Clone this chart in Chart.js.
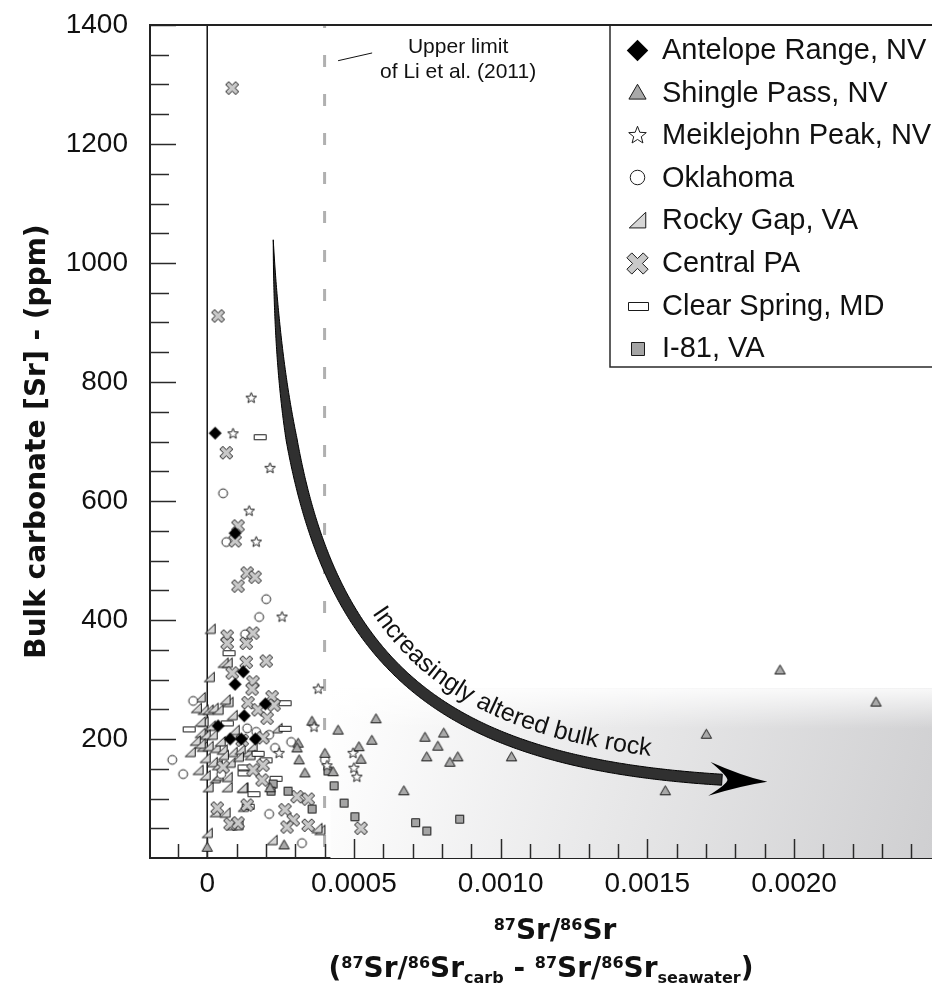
<!DOCTYPE html>
<html>
<head>
<meta charset="utf-8">
<title>Bulk carbonate Sr vs 87Sr/86Sr offset</title>
<script src="https://cdn.jsdelivr.net/npm/chart.js@4.4.0/dist/chart.umd.min.js"></script>
<style>
  html, body { margin: 0; padding: 0; background: #fff; overflow: hidden; }
  #wrap { width: 932px; height: 984px; }
</style>
</head>
<body>
<div id="wrap"><canvas id="srChart" width="932" height="984"></canvas></div>
<script>
const FONT = '"Liberation Sans", Arial, Helvetica, sans-serif';
const BOLD = '"DejaVu Sans", "Liberation Sans", sans-serif';

// ---- data: x = 87Sr/86Sr(carb) - 87Sr/86Sr(seawater), y = [Sr] ppm ----
const antelopeX = [0.000027, 0.000095, 0.000123, 0.000095, 0.000198, 0.000126, 0.000037, 0.000078, 0.000116, 0.000164];
const antelopeY = [714, 546, 313, 292, 259, 239, 222, 200, 200, 200];

const shingleX = [0.000357, 0.00031, 0.000306, 0.000313, 0.000333, 0.000401, 0.000429, 0.000446, 0.000262, 0.000214,
                  0.000575, 0.000561, 0.000517, 0.000524, 0.00067, 0.000742, 0.000806, 0.000786, 0.000748, 0.000827,
                  0.000854, 0.001037, 0.001561, 0.001701, 0.001952, 0.002279, 0.0];
const shingleY = [230, 193, 185, 165, 143, 176, 145, 215, 22, 118,
                  234, 198, 187, 166, 113, 203, 210, 188, 170, 161,
                  170, 170, 113, 208, 316, 262, 18];

const meiklejohnX = [0.00015, 0.000088, 0.000214, 0.000143, 0.000167, 0.000255, 0.000378, 0.000364, 0.000245, 0.000408, 0.000497, 0.0005, 0.00051];
const meiklejohnY = [773, 713, 655, 583, 531, 405, 284, 220, 176, 155, 176, 151, 136];

const oklahomaX = [0.000054, 0.000065, 0.000201, 0.000177, 0.000129, -0.000048, -0.000119, -0.000082, 0.000136, 0.000167,
                   0.000211, 0.000286, 0.000231, 0.000401, 0.000211, 0.000323, 0.000122, 0.000048];
const oklahomaY = [613, 531, 435, 405, 376, 264, 165, 141, 218, 212,
                   207, 195, 185, 165, 74, 25, 148, 141];

const rockyGapX = [0.00001, 0.000007, 0.000054, 0.000068, -0.000014, 0.000003, 0.00002, 0.000037, 0.000071, -0.000014,
                   0.00001, -0.000024, -0.000007, 0.000017, -0.000017, 0.000003, 0.000027, 0.000051, 0.000085, -0.000007,
                   0.000017, 0.000034, 0.000078, 0.000112, -0.000007, 0.000027, 0.000068, 0.000003, 0.000068, 0.000136,
                   0.000153, 0.000122, 0.000027, 0.000061, 0.0, 0.000085, 0.000105, 0.000061, 0.000238, 0.000119,
                   0.000221, 0.000384, 0.000374, 0.000146, -0.000024, -0.000041, -0.000058, -0.000031,
                   -0.000037, -0.000024, -0.000024, 0.000055, 0.000106, 0.000037, 0.000123, 0.000085, 0.000044, 0.000092];
const rockyGapY = [385, 304, 328, 328, 249, 249, 252, 249, 262, 229,
                   222, 210, 207, 207, 187, 188, 185, 182, 178, 168,
                   161, 156, 160, 182, 139, 134, 136, 119, 119, 178,
                   187, 118, 77, 76, 42, 55, 55, 266, 218, 118,
                   30, 47, 50, 173, 270, 197, 178, 148,
                   252, 229, 192, 173, 170, 138, 86, 240, 196, 215];

const centralPAX = [0.000085, 0.000037, 0.000065, 0.000105, 0.000095, 0.000136, 0.000163, 0.000105, 0.000068, 0.000068,
                    0.000133, 0.000156, 0.000133, 0.000201, 0.000085, 0.000156, 0.000153, 0.000139, 0.000221, 0.000228,
                    0.000173, 0.000204, 0.00019, 0.000054, 0.00019, 0.000156, 0.000187, 0.000034, 0.000136, 0.000078,
                    0.000105, 0.000306, 0.000344, 0.000265, 0.000293, 0.000272, 0.000344, 0.000524, 0.000119];
const centralPAY = [1294, 911, 681, 558, 533, 479, 472, 457, 373, 361,
                    361, 378, 329, 331, 311, 296, 284, 261, 271, 257,
                    249, 235, 202, 153, 156, 148, 131, 84, 89, 57,
                    59, 103, 99, 81, 64, 52, 55, 50, 198];

const clearSpringX = [0.000177, 0.000071, -0.000065, 0.000065, 0.000262, 0.000262, 0.00017, 0.000122, 0.000122, 0.000231, 0.000156, 0.000136, 0.000197];
const clearSpringY = [708, 345, 217, 227, 261, 218, 176, 153, 143, 134, 108, 87, 165];

const i81X = [0.000272, 0.000354, 0.000429, 0.000463, 0.0005, 0.000707, 0.000745, 0.000857, 0.000408, 0.000221, 0.000214];
const i81Y = [114, 84, 123, 94, 71, 61, 47, 67, 148, 126, 114];

// axis ticks
const xMajorTicks = [0, 0.0005, 0.0010, 0.0015, 0.0020];
const xTickLabels = ['0', '0.0005', '0.0010', '0.0015', '0.0020'];
const yMajorTicks = [200, 400, 600, 800, 1000, 1200, 1400];
const yTickLabels = ['200', '400', '600', '800', '1000', '1200', '1400'];

// annotations (data units)
const liLimitX = 0.0004;
const alteredZone = { xFrom: 0.00042, yTo: 285 };
const arrowCtrl = [[0.000225, 1039], [0.000266, 350], [0.000658, 148], [0.001909, 128]];
const arrowText = 'Increasingly altered bulk rock';
const liNote = { x: 0.000855, lines: [[1362, 'Upper limit'], [1321, 'of Li et al. (2011)']] };
const liLeader = [[0.000446, 1340], [0.000562, 1353]];

// ---- marker images ----
function marker(kind, k) {
  const s = Math.ceil(17 * k) + 4;
  const c = document.createElement('canvas');
  c.width = s; c.height = s;
  const g = c.getContext('2d');
  const m = s / 2;
  g.lineWidth = 1;
  g.strokeStyle = '#1a1a1a';
  g.beginPath();
  if (kind === 'diamond') {
    const h = 6.5 * k;
    g.moveTo(m, m - h); g.lineTo(m + h, m); g.lineTo(m, m + h); g.lineTo(m - h, m); g.closePath();
    g.fillStyle = '#000';
  } else if (kind === 'triangle') {
    const w = 5.2 * k;
    g.moveTo(m, m - 5 * k); g.lineTo(m + w, m + 4 * k); g.lineTo(m - w, m + 4 * k); g.closePath();
    g.fillStyle = '#a9a9a9';
  } else if (kind === 'star') {
    for (let i = 0; i < 10; i++) {
      const r = i % 2 ? 2.4 * k : 5.6 * k;
      const a = -Math.PI / 2 + i * Math.PI / 5;
      g.lineTo(m + r * Math.cos(a), m + r * Math.sin(a));
    }
    g.closePath();
    g.fillStyle = '#fff';
  } else if (kind === 'circle') {
    g.arc(m, m, 4.4 * k, 0, Math.PI * 2);
    g.fillStyle = '#fff';
  } else if (kind === 'rtri') {
    const h = 5 * k;
    g.moveTo(m - h, m + h * 0.9); g.lineTo(m + h, m + h * 0.9); g.lineTo(m + h, m - h); g.closePath();
    g.fillStyle = '#d6d6d6';
  } else if (kind === 'cross') {
    const a = 2.1 * k, e = 7 * k;
    const pts = [[-a, -e], [a, -e], [a, -a], [e, -a], [e, a], [a, a], [a, e], [-a, e], [-a, a], [-e, a], [-e, -a], [-a, -a]];
    const cs = Math.SQRT1_2;
    pts.forEach(([px, py]) => g.lineTo(m + (px - py) * cs, m + (px + py) * cs));
    g.closePath();
    g.fillStyle = '#c9c9c9';
  } else if (kind === 'rect') {
    g.rect(Math.round(m - 6 * k) + 0.5, Math.round(m - 2.3 * k) + 0.5, Math.round(12 * k), Math.round(4.6 * k));
    g.fillStyle = '#fff';
  } else if (kind === 'square') {
    g.rect(Math.round(m - 3.8 * k) + 0.5, Math.round(m - 3.8 * k) + 0.5, Math.round(7.6 * k), Math.round(7.6 * k));
    g.fillStyle = '#a4a4a4';
  }
  g.fill();
  if (kind !== 'diamond') g.stroke();
  return c;
}

const series = [
  { label: 'Antelope Range, NV', xs: antelopeX, ys: antelopeY, kind: 'diamond', order: 0 },
  { label: 'Shingle Pass, NV', xs: shingleX, ys: shingleY, kind: 'triangle', order: 2 },
  { label: 'Meiklejohn Peak, NV', xs: meiklejohnX, ys: meiklejohnY, kind: 'star', order: 1 },
  { label: 'Oklahoma', xs: oklahomaX, ys: oklahomaY, kind: 'circle', order: 6 },
  { label: 'Rocky Gap, VA', xs: rockyGapX, ys: rockyGapY, kind: 'rtri', order: 7 },
  { label: 'Central PA', xs: centralPAX, ys: centralPAY, kind: 'cross', order: 4 },
  { label: 'Clear Spring, MD', xs: clearSpringX, ys: clearSpringY, kind: 'rect', order: 5 },
  { label: 'I-81, VA', xs: i81X, ys: i81Y, kind: 'square', order: 3 }
];
series.forEach(s => { s.img = marker(s.kind, 1); s.legendImg = marker(s.kind, 1.65); });

// ---- helpers for the curved arrow ----
function bezier(P, n) {
  const out = [];
  for (let i = 0; i <= n; i++) {
    const t = i / n, u = 1 - t;
    const a = u * u * u, b = 3 * t * u * u, c = 3 * t * t * u, d = t * t * t;
    out.push({ x: a * P[0].x + b * P[1].x + c * P[2].x + d * P[3].x,
               y: a * P[0].y + b * P[1].y + c * P[2].y + d * P[3].y });
  }
  return out;
}
function arc(pts) {
  let s = 0;
  pts.forEach((p, i) => {
    if (i > 0) s += Math.hypot(p.x - pts[i - 1].x, p.y - pts[i - 1].y);
    p.s = s;
    const a = pts[Math.max(0, i - 1)], b = pts[Math.min(pts.length - 1, i + 1)];
    const l = Math.hypot(b.x - a.x, b.y - a.y) || 1;
    p.tx = (b.x - a.x) / l; p.ty = (b.y - a.y) / l;
  });
  return pts;
}
function at(pts, s) {
  let i = 1;
  while (i < pts.length - 1 && pts[i].s < s) i++;
  const a = pts[i - 1], b = pts[i];
  const f = Math.max(0, Math.min(1, (s - a.s) / ((b.s - a.s) || 1)));
  return { x: a.x + (b.x - a.x) * f, y: a.y + (b.y - a.y) * f,
           tx: a.tx + (b.tx - a.tx) * f, ty: a.ty + (b.ty - a.ty) * f };
}
// one line of the x title with super/subscripts
function richLine(ctx, segs, cx, baseline, size, small) {
  const mainF = 'bold ' + size + 'px ' + BOLD;
  const smallF = 'bold ' + small + 'px ' + BOLD;
  let total = 0;
  segs.forEach(sg => { ctx.font = sg.k ? smallF : mainF; sg.w = ctx.measureText(sg.t).width; total += sg.w; });
  let x = cx - total / 2;
  ctx.textAlign = 'left';
  ctx.textBaseline = 'alphabetic';
  segs.forEach(sg => {
    ctx.font = sg.k ? smallF : mainF;
    const dy = sg.k === 'sup' ? -9 : (sg.k === 'sub' ? 6 : 0);
    ctx.fillText(sg.t, x, baseline + dy);
    x += sg.w;
  });
}

const decor = {
  id: 'decor',
  beforeDatasetsDraw(chart) {
    const { ctx, chartArea: a, scales: { x, y } } = chart;
    ctx.save();
    ctx.beginPath(); ctx.rect(a.left, a.top, a.right - a.left, a.bottom - a.top); ctx.clip();

    // shaded "altered" field
    const zx = x.getPixelForValue(alteredZone.xFrom), zy = y.getPixelForValue(alteredZone.yTo);
    const gr = ctx.createLinearGradient(zx, zy, a.right, a.bottom);
    gr.addColorStop(0, '#ffffff');
    gr.addColorStop(1, '#cfcfd1');
    ctx.fillStyle = gr;
    ctx.fillRect(zx, zy, a.right - zx, a.bottom - zy);
    const gv = ctx.createLinearGradient(0, zy, 0, zy + 40);
    gv.addColorStop(0, 'rgba(255,255,255,0.85)');
    gv.addColorStop(1, 'rgba(255,255,255,0)');
    ctx.fillStyle = gv;
    ctx.fillRect(zx, zy, a.right - zx, 40);

    // Li et al. limit
    const lx = x.getPixelForValue(liLimitX);
    ctx.strokeStyle = '#b0b0b0';
    ctx.lineWidth = 3;
    ctx.setLineDash([12, 27]);
    ctx.beginPath(); ctx.moveTo(lx, a.top - 9); ctx.lineTo(lx, a.bottom); ctx.stroke();
    ctx.setLineDash([]);

    // zero line
    const x0 = x.getPixelForValue(0);
    ctx.strokeStyle = '#111';
    ctx.lineWidth = 1.5;
    ctx.beginPath(); ctx.moveTo(x0, a.top); ctx.lineTo(x0, a.bottom); ctx.stroke();

    // inward tick marks
    ctx.strokeStyle = '#2a2a2a';
    ctx.lineWidth = 1.5;
    y.ticks.forEach(t => {
      const py = Math.round(y.getPixelForValue(t.value)) + 0.5;
      const len = Math.round(t.value) % 200 === 0 ? 26 : 19;
      ctx.beginPath(); ctx.moveTo(a.left, py); ctx.lineTo(a.left + len, py); ctx.stroke();
    });
    x.ticks.forEach(t => {
      const px = Math.round(x.getPixelForValue(t.value)) + 0.5;
      const major = Math.round(t.value * 10000) % 5 === 0;
      const len = major ? 19 : 14;
      ctx.beginPath(); ctx.moveTo(px, a.bottom); ctx.lineTo(px, a.bottom - len); ctx.stroke();
    });
    ctx.restore();
  },
  afterDatasetsDraw(chart) {
    const { ctx, chartArea: a, scales: { x, y } } = chart;
    ctx.save();

    // curved arrow
    const P = arrowCtrl.map(([vx, vy]) => ({ x: x.getPixelForValue(vx), y: y.getPixelForValue(vy) }));
    const pts = arc(bezier(P, 400));
    const L = pts[pts.length - 1].s;
    const shaftEnd = L - 44;
    const left = [], right = [];
    pts.forEach(p => {
      if (p.s > shaftEnd) return;
      const w = 11 * Math.min(1, p.s / 200) / 2;
      left.push([p.x + p.ty * w, p.y - p.tx * w]);
      right.push([p.x - p.ty * w, p.y + p.tx * w]);
    });
    ctx.beginPath();
    left.forEach(([px, py], i) => i ? ctx.lineTo(px, py) : ctx.moveTo(px, py));
    right.reverse().forEach(([px, py]) => ctx.lineTo(px, py));
    ctx.closePath();
    ctx.fillStyle = '#303030';
    ctx.fill();
    ctx.strokeStyle = '#000';
    ctx.lineWidth = 1;
    ctx.stroke();

    const tip = pts[pts.length - 1];
    const base = at(pts, L - 54), notch = at(pts, L - 40);
    const hw = 17;
    const b1 = { x: base.x + base.ty * hw - base.tx * 4, y: base.y - base.tx * hw - base.ty * 4 };
    const b2 = { x: base.x - base.ty * hw - base.tx * 4, y: base.y + base.tx * hw - base.ty * 4 };
    const mid = at(pts, L - 26);
    ctx.beginPath();
    ctx.moveTo(tip.x, tip.y);
    ctx.quadraticCurveTo(mid.x + mid.ty * 5, mid.y - mid.tx * 5, b1.x, b1.y);
    ctx.quadraticCurveTo(notch.x + notch.ty * 4, notch.y - notch.tx * 4, notch.x, notch.y);
    ctx.quadraticCurveTo(notch.x - notch.ty * 4, notch.y + notch.tx * 4, b2.x, b2.y);
    ctx.quadraticCurveTo(mid.x - mid.ty * 5, mid.y + mid.tx * 5, tip.x, tip.y);
    ctx.closePath();
    ctx.fillStyle = '#000';
    ctx.fill();

    // text following the arrow
    const off = 17;
    const opts = arc(pts.map(p => ({ x: p.x + p.ty * off, y: p.y - p.tx * off })));
    let s = opts[Math.round(0.43 * (opts.length - 1))].s;
    ctx.font = '25px ' + FONT;
    ctx.fillStyle = '#111';
    ctx.textAlign = 'center';
    ctx.textBaseline = 'alphabetic';
    for (const ch of arrowText) {
      const w = ctx.measureText(ch).width;
      const p = at(opts, s + w / 2);
      ctx.save();
      ctx.translate(p.x, p.y);
      ctx.rotate(Math.atan2(p.ty, p.tx));
      ctx.fillText(ch, 0, 0);
      ctx.restore();
      s += w;
    }

    // Li et al. note
    ctx.font = '21px ' + FONT;
    ctx.textBaseline = 'middle';
    liNote.lines.forEach(([vy, txt]) => ctx.fillText(txt, x.getPixelForValue(liNote.x), y.getPixelForValue(vy)));
    ctx.strokeStyle = '#111';
    ctx.lineWidth = 1;
    ctx.beginPath();
    ctx.moveTo(x.getPixelForValue(liLeader[0][0]), y.getPixelForValue(liLeader[0][1]));
    ctx.lineTo(x.getPixelForValue(liLeader[1][0]), y.getPixelForValue(liLeader[1][1]));
    ctx.stroke();

    // legend box (open to the right, cut by the page edge)
    const W = chart.width;
    const lgL = a.left + 460, lgB = a.top + 342;
    ctx.fillStyle = '#fff';
    ctx.fillRect(lgL, a.top, W - lgL, lgB - a.top);
    ctx.strokeStyle = '#2a2a2a';
    ctx.lineWidth = 1.5;
    ctx.beginPath(); ctx.moveTo(lgL, a.top); ctx.lineTo(lgL, lgB); ctx.lineTo(W, lgB); ctx.stroke();
    ctx.font = '29px ' + FONT;
    ctx.fillStyle = '#111';
    ctx.textAlign = 'left';
    ctx.textBaseline = 'middle';
    series.forEach((sr, i) => {
      const cy = a.top + 25 + i * 42.6;
      ctx.drawImage(sr.legendImg, Math.round(lgL + 27 - sr.legendImg.width / 2), Math.round(cy - sr.legendImg.height / 2));
      ctx.fillText(sr.label, lgL + 52, cy + 1);
    });

    // frame top edge
    ctx.strokeStyle = '#222';
    ctx.lineWidth = 2;
    ctx.beginPath(); ctx.moveTo(a.left - 1, a.top); ctx.lineTo(W, a.top); ctx.stroke();
    ctx.restore();
  },
  afterDraw(chart) {
    const { ctx, chartArea: a } = chart;
    ctx.save();
    ctx.fillStyle = '#111';
    const cx = (a.left + a.right) / 2;
    richLine(ctx, [{ t: '87', k: 'sup' }, { t: 'Sr/' }, { t: '86', k: 'sup' }, { t: 'Sr' }], cx + 14, a.bottom + 81, 28, 16);
    richLine(ctx, [{ t: '(' }, { t: '87', k: 'sup' }, { t: 'Sr/' }, { t: '86', k: 'sup' }, { t: 'Sr' }, { t: 'carb', k: 'sub' },
                   { t: ' - ' }, { t: '87', k: 'sup' }, { t: 'Sr/' }, { t: '86', k: 'sup' }, { t: 'Sr' },
                   { t: 'seawater', k: 'sub' }, { t: ')' }], cx, a.bottom + 119, 28, 16);
    ctx.restore();
  }
};

const xTicks = [];
for (let i = -1; i <= 24; i++) xTicks.push(i / 10000);
const yTicks = [];
for (let v = 0; v <= 1400; v += 50) yTicks.push(v);

const ctx = document.getElementById('srChart').getContext('2d');
const srChart = new Chart(ctx, {
  type: 'scatter',
  data: {
    datasets: series.map(sr => ({
      label: sr.label,
      data: sr.xs.map((vx, i) => ({ x: vx, y: sr.ys[i] })),
      pointStyle: sr.img,
      order: sr.order
    }))
  },
  options: {
    responsive: false,
    animation: false,
    devicePixelRatio: 1,
    // the plot runs right to the page edge, as in the cropped original
    layout: { autoPadding: false, padding: { top: 25, left: 0, right: 0, bottom: 0 } },
    plugins: { legend: { display: false }, tooltip: { enabled: false } },
    scales: {
      x: {
        type: 'linear',
        min: -0.000195,
        max: 0.00247,
        afterBuildTicks: s => { s.ticks = xTicks.map(v => ({ value: v })); },
        afterFit: s => { s.height = 126; },
        // grid lines hidden; tickLength only spaces the labels from the axis
        grid: { display: false, drawTicks: true, tickLength: 9 },
        border: { display: true, color: '#222', width: 2 },
        ticks: {
          autoSkip: false,
          maxRotation: 0,
          padding: 0,
          color: '#111',
          font: { family: FONT, size: 28 },
          callback: v => {
            const i = xMajorTicks.findIndex(m => Math.abs(m - v) < 1e-9);
            return i < 0 ? '' : xTickLabels[i];
          }
        }
      },
      y: {
        type: 'linear',
        min: 0,
        max: 1400,
        afterBuildTicks: s => { s.ticks = yTicks.map(v => ({ value: v })); },
        afterFit: s => { s.width = 150; },
        grid: { display: false, drawTicks: true, tickLength: 22 },
        border: { display: true, color: '#222', width: 2 },
        title: {
          display: true,
          text: 'Bulk carbonate [Sr] - (ppm)',
          color: '#111',
          font: { family: BOLD, size: 28, weight: 'bold' },
          padding: { top: 21, bottom: 0 }
        },
        ticks: {
          autoSkip: false,
          padding: 0,
          color: '#111',
          font: { family: FONT, size: 28 },
          callback: v => {
            const i = yMajorTicks.indexOf(Math.round(v));
            return i < 0 ? '' : yTickLabels[i];
          }
        }
      }
    }
  },
  plugins: [decor]
});
</script>
</body>
</html>
